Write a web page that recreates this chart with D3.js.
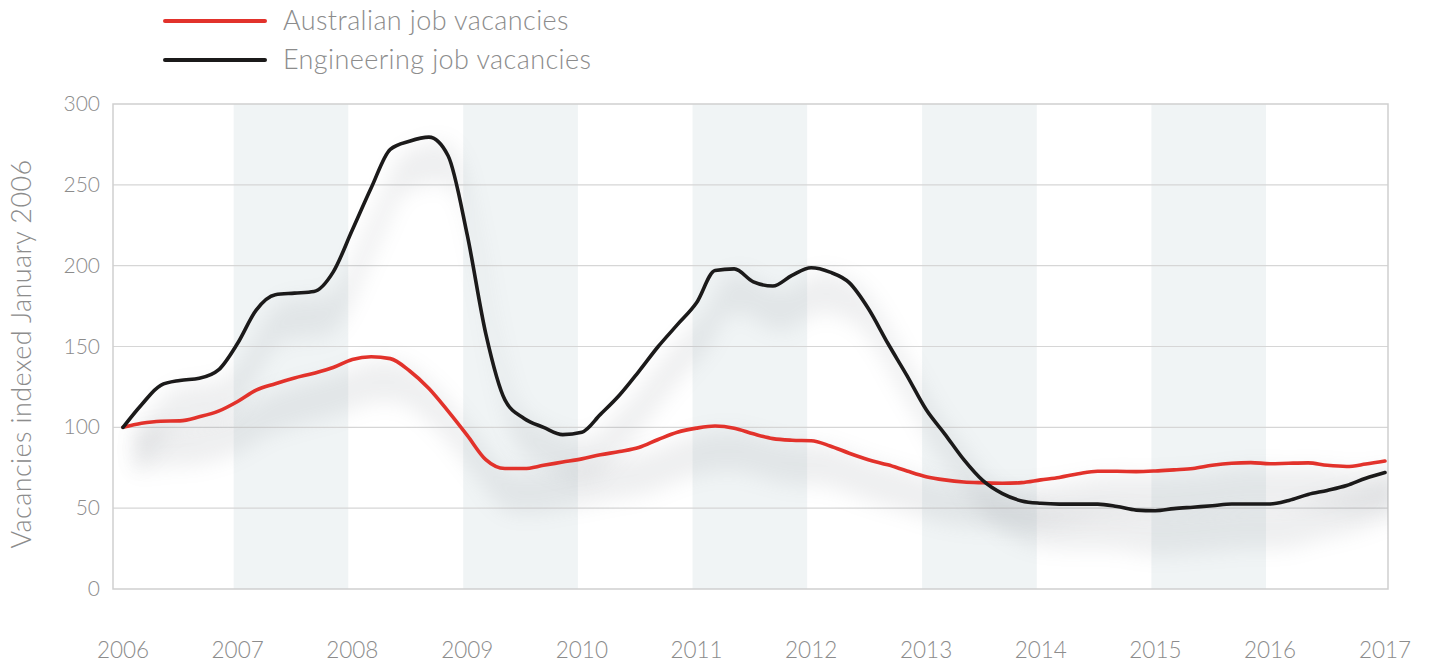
<!DOCTYPE html>
<html>
<head>
<meta charset="utf-8">
<script src="https://cdn.jsdelivr.net/npm/d3@7"></script>
<style>
  html, body { margin: 0; padding: 0; background: #fff; }
  svg { display: block; font-family: Lato, "Open Sans", sans-serif; }
</style>
</head>
<body>
<svg id="chart" width="1429" height="662"></svg>
<script>
// ---- data ----
const dates = [
  "2006-01","2006-03","2006-05","2006-07","2006-09","2006-11",
  "2007-01","2007-03","2007-05","2007-07","2007-09","2007-11",
  "2008-01","2008-03","2008-05","2008-07","2008-09","2008-11",
  "2009-01","2009-03","2009-05","2009-07","2009-09","2009-11",
  "2010-01","2010-03","2010-05","2010-07","2010-09","2010-11",
  "2011-01","2011-03","2011-05","2011-07","2011-09","2011-11",
  "2012-01","2012-03","2012-05","2012-07","2012-09","2012-11",
  "2013-01","2013-03","2013-05","2013-07","2013-09","2013-11",
  "2014-01","2014-03","2014-05","2014-07","2014-09","2014-11",
  "2015-01","2015-03","2015-05","2015-07","2015-09","2015-11",
  "2016-01","2016-03","2016-05","2016-07","2016-09","2016-11",
  "2017-01"
];
const australianVacancies = [
  100, 102.5, 103.8, 104, 106.5, 110,
  116, 123, 127, 130.5, 133.5, 137,
  142, 143.7, 142.5, 135, 124, 110,
  95, 80, 74.5, 74.5, 76.5, 78.5,
  80.5, 83, 85, 87.5, 92.5, 97,
  99.5, 100.8, 99.5, 96, 93, 92,
  91.7, 88.5, 84, 80, 76.8, 73,
  69.5, 67.5, 66.2, 65.7, 65.4, 65.8,
  67.5, 69, 71.3, 72.8, 72.8, 72.6,
  73, 73.7, 74.5, 76.5, 77.8, 78.2,
  77.5, 77.8, 78, 76.5, 75.8, 77.3,
  79.2
];
const engineeringVacancies = [
  100, 114, 126, 129, 130.3, 135.5,
  152, 172.5, 182, 183, 184, 196,
  222, 248, 272, 277, 279.5, 268,
  219, 158, 117, 105.5, 100, 95.5,
  97, 108, 120, 134.5, 150, 163.5,
  177, 197, 198, 190, 187.4, 194,
  198.7, 196, 189.5, 173.5, 152, 132,
  111, 96, 80, 67, 59, 54.5,
  53, 52.5, 52.5, 52.5, 51, 48.8,
  48.4, 49.7, 50.6, 51.5, 52.6, 52.6,
  52.6, 54.8, 58.5, 61, 64, 68.5,
  72
];
const yearTicks = [2006,2007,2008,2009,2010,2011,2012,2013,2014,2015,2016,2017];
const shadedYears = [2007, 2009, 2011, 2013, 2015];
const yTicks = [0, 50, 100, 150, 200, 250, 300];
const seriesNames = ["Australian job vacancies", "Engineering job vacancies"];
const seriesColors = ["#e2322b", "#1b1a1a"];
const yTitle = "Vacancies indexed January 2006";

// ---- layout ----
const svg = d3.select("#chart");
const frame = {left: 113, right: 1388, top: 104, bottom: 589};
const parse = d3.timeParse("%Y-%m");
const toDate = y => new Date(y, 0, 1);
const x = d3.scaleTime()
  .domain([toDate(2006), toDate(2017)])
  .range([123, 1385]);
const y = d3.scaleLinear().domain([0, 300]).range([frame.bottom, frame.top]);
const textColor = "#8c8c8c";

const defs = svg.append("defs");
defs.append("clipPath").attr("id", "plotclip")
  .append("rect")
  .attr("x", frame.left).attr("y", frame.top)
  .attr("width", frame.right - frame.left).attr("height", frame.bottom - frame.top);
const blur = defs.append("filter").attr("id", "soft")
  .attr("x", "-10%").attr("y", "-10%").attr("width", "120%").attr("height", "140%");
blur.append("feGaussianBlur").attr("stdDeviation", 10);

// shaded year bands
svg.append("g").selectAll("rect").data(shadedYears).join("rect")
  .attr("x", d => x(toDate(d)) - 4)
  .attr("width", d => x(toDate(d + 1)) - x(toDate(d)))
  .attr("y", frame.top)
  .attr("height", frame.bottom - frame.top)
  .attr("fill", "#f0f4f5");

// gridlines
svg.append("g").selectAll("line").data(yTicks.filter(t => t > 0 && t < 300)).join("line")
  .attr("x1", frame.left).attr("x2", frame.right)
  .attr("y1", d => y(d)).attr("y2", d => y(d))
  .attr("stroke", "#d6d6d6").attr("stroke-width", 1.2);

// frame
svg.append("rect")
  .attr("x", frame.left).attr("y", frame.top)
  .attr("width", frame.right - frame.left).attr("height", frame.bottom - frame.top)
  .attr("fill", "none").attr("stroke", "#cfcfcf").attr("stroke-width", 1.5);

// y tick labels
svg.append("g").selectAll("text").data(yTicks).join("text")
  .attr("x", 100).attr("y", d => y(d) + 7)
  .attr("text-anchor", "end")
  .attr("font-size", 21).attr("font-weight", 300)
  .attr("fill", textColor)
  .text(d => d);

// x tick labels
svg.append("g").selectAll("text").data(yearTicks).join("text")
  .attr("x", d => x(toDate(d)))
  .attr("y", 658)
  .attr("text-anchor", "middle")
  .attr("font-size", 22.5).attr("font-weight", 300)
  .attr("fill", textColor)
  .text(d => d);

// y title
svg.append("text")
  .attr("transform", "translate(31,354) rotate(-90)")
  .attr("text-anchor", "middle")
  .attr("font-size", 27).attr("font-weight", 300)
  .attr("letter-spacing", 0.4)
  .attr("fill", textColor)
  .text(yTitle);

// series
const series = [australianVacancies, engineeringVacancies].map((vals, i) => ({
  name: seriesNames[i],
  color: seriesColors[i],
  points: dates.map((d, j) => ({date: parse(d), value: vals[j]}))
}));

const line = d3.line().x(d => x(d.date)).y(d => y(d.value)).curve(d3.curveMonotoneX);
const shadowArea = d3.area().x(d => x(d.date) + 12)
  .y0(d => y(d.value) + 4).y1(d => y(d.value) + 45).curve(d3.curveMonotoneX);

const shadowG = svg.append("g").attr("clip-path", "url(#plotclip)");
series.forEach(s => {
  shadowG.append("path")
    .datum(s.points)
    .attr("d", shadowArea)
    .attr("fill", "#7a8088")
    .attr("opacity", 0.12)
    .attr("filter", "url(#soft)");
});

series.forEach(s => {
  svg.append("path")
    .datum(s.points)
    .attr("d", line)
    .attr("fill", "none")
    .attr("stroke", s.color)
    .attr("stroke-width", 3.6)
    .attr("stroke-linejoin", "round")
    .attr("stroke-linecap", "round");
});

// legend
const legend = svg.append("g");
series.forEach((s, i) => {
  const ly = 21 + i * 39;
  legend.append("line")
    .attr("x1", 165).attr("x2", 265).attr("y1", ly).attr("y2", ly)
    .attr("stroke", s.color).attr("stroke-width", 4).attr("stroke-linecap", "round");
  legend.append("text")
    .attr("x", 283).attr("y", ly + 9)
    .attr("font-size", 27).attr("font-weight", 300)
    .attr("letter-spacing", 0.4)
    .attr("fill", textColor)
    .text(s.name);
});
</script>
</body>
</html>
